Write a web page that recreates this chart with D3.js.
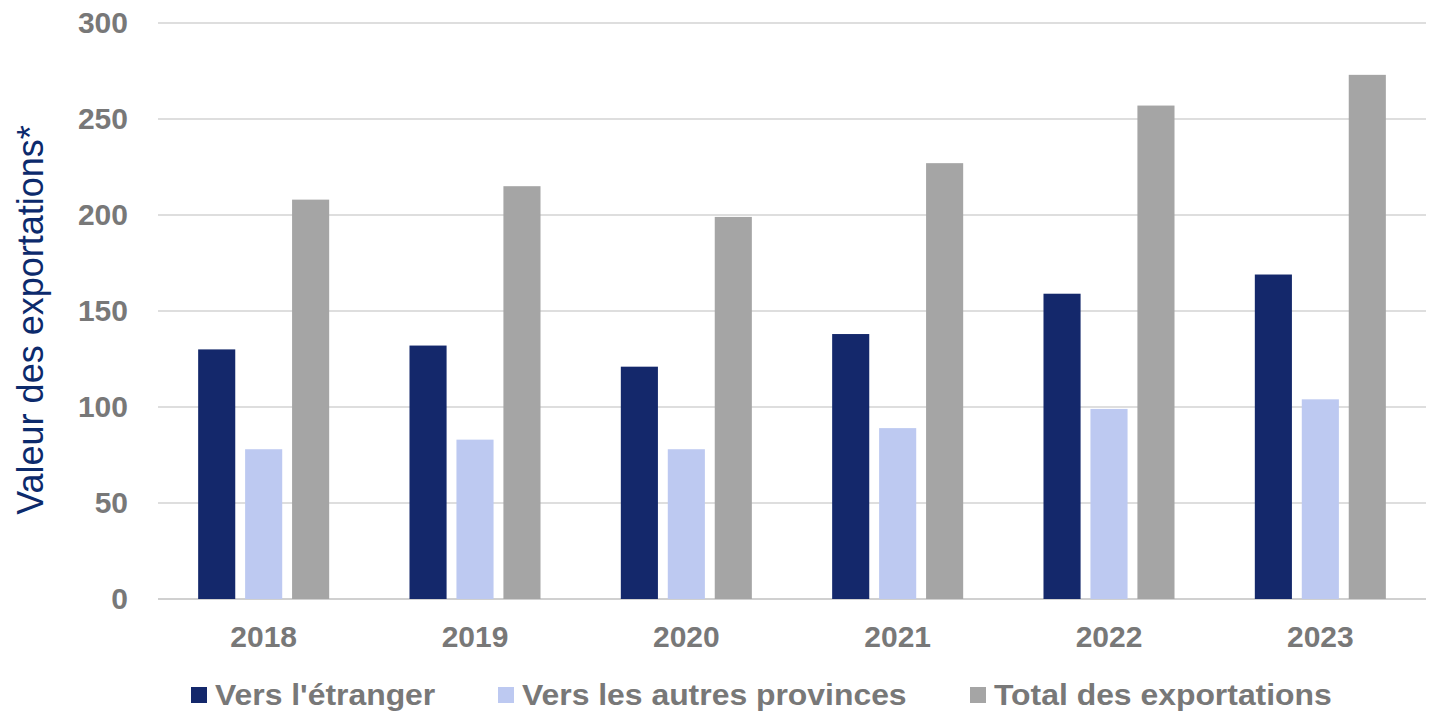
<!DOCTYPE html>
<html>
<head>
<meta charset="utf-8">
<script src="https://cdn.jsdelivr.net/npm/d3@7"></script>
<style>
  body { margin: 0; background: #fff; }
  text { font-family: "Liberation Sans", Arial, sans-serif; }
</style>
</head>
<body>
<script>
const years = ['2018', '2019', '2020', '2021', '2022', '2023'];
const seriesNames = ["Vers l'étranger", 'Vers les autres provinces', 'Total des exportations'];
const etranger = [130, 132, 121, 138, 159, 169];
const provinces = [78, 83, 78, 89, 99, 104];
const total = [208, 215, 199, 227, 257, 273];
const yTicks = [0, 50, 100, 150, 200, 250, 300];
const colors = ['#14286b', '#bdc9f1', '#a5a5a5'];

const width = 1435;
const height = 714;
const margin = { top: 23, right: 9, bottom: 115, left: 158 };
const labelColor = '#787878';

const svg = d3.select('body')
  .append('svg')
  .attr('width', width)
  .attr('height', height);

const x = d3.scaleBand()
  .domain(years)
  .range([margin.left, width - margin.right])
  .paddingInner(0.38)
  .paddingOuter(0.19);

const xs = d3.scaleBand()
  .domain(seriesNames)
  .range([0, x.bandwidth()])
  .paddingInner(0.21);

const y = d3.scaleLinear()
  .domain([0, 300])
  .range([height - margin.bottom, margin.top]);

// gridlines
svg.append('g')
  .selectAll('line')
  .data(yTicks)
  .join('line')
  .attr('x1', margin.left)
  .attr('x2', width - margin.right)
  .attr('y1', d => y(d))
  .attr('y2', d => y(d))
  .attr('stroke', d => d === 0 ? '#d0d0d0' : '#dedede')
  .attr('stroke-width', 2);

const rows = years.map((yr, i) => ({
  year: yr,
  vals: [etranger[i], provinces[i], total[i]]
}));

svg.append('g')
  .selectAll('g')
  .data(rows)
  .join('g')
  .attr('transform', d => `translate(${x(d.year)},0)`)
  .selectAll('rect')
  .data(d => d.vals.map((v, k) => ({ k, v })))
  .join('rect')
  .attr('x', d => xs(seriesNames[d.k]))
  .attr('width', xs.bandwidth())
  .attr('y', d => y(d.v))
  .attr('height', d => y(0) - y(d.v))
  .attr('fill', d => colors[d.k]);

// y tick labels
const yAxis = svg.append('g')
  .attr('transform', `translate(${margin.left - 30},0)`)
  .call(d3.axisLeft(y).tickValues(yTicks).tickSize(0).tickPadding(0));
yAxis.select('.domain').remove();
yAxis.selectAll('text')
  .attr('font-size', 30)
  .attr('font-weight', 'bold')
  .attr('fill', labelColor)
  .attr('font-family', '"Liberation Sans", Arial, sans-serif');

// x tick labels
const xAxis = svg.append('g')
  .attr('transform', `translate(0,${y(0)})`)
  .call(d3.axisBottom(x).tickSize(0).tickPadding(27));
xAxis.select('.domain').remove();
xAxis.selectAll('text')
  .attr('font-size', 30)
  .attr('font-weight', 'bold')
  .attr('fill', labelColor)
  .attr('font-family', '"Liberation Sans", Arial, sans-serif');

// y title
svg.append('text')
  .attr('transform', `translate(43,${(y(0) + y(300)) / 2 + 9}) rotate(-90)`)
  .attr('text-anchor', 'middle')
  .attr('font-size', 36)
  .attr('fill', '#0c2a6c')
  .text('Valeur des exportations*');

// legend
const legendX = [191, 498, 970];
const legend = svg.append('g')
  .selectAll('g')
  .data(seriesNames)
  .join('g')
  .attr('transform', (d, i) => `translate(${legendX[i]},695)`);
legend.append('rect')
  .attr('x', 0)
  .attr('y', -8)
  .attr('width', 16)
  .attr('height', 16)
  .attr('fill', (d, i) => colors[i]);
legend.append('text')
  .attr('transform', 'translate(24,10) scale(1.1,1)')
  .attr('font-size', 29)
  .attr('font-weight', 'bold')
  .attr('fill', labelColor)
  .text(d => d);
</script>
</body>
</html>
